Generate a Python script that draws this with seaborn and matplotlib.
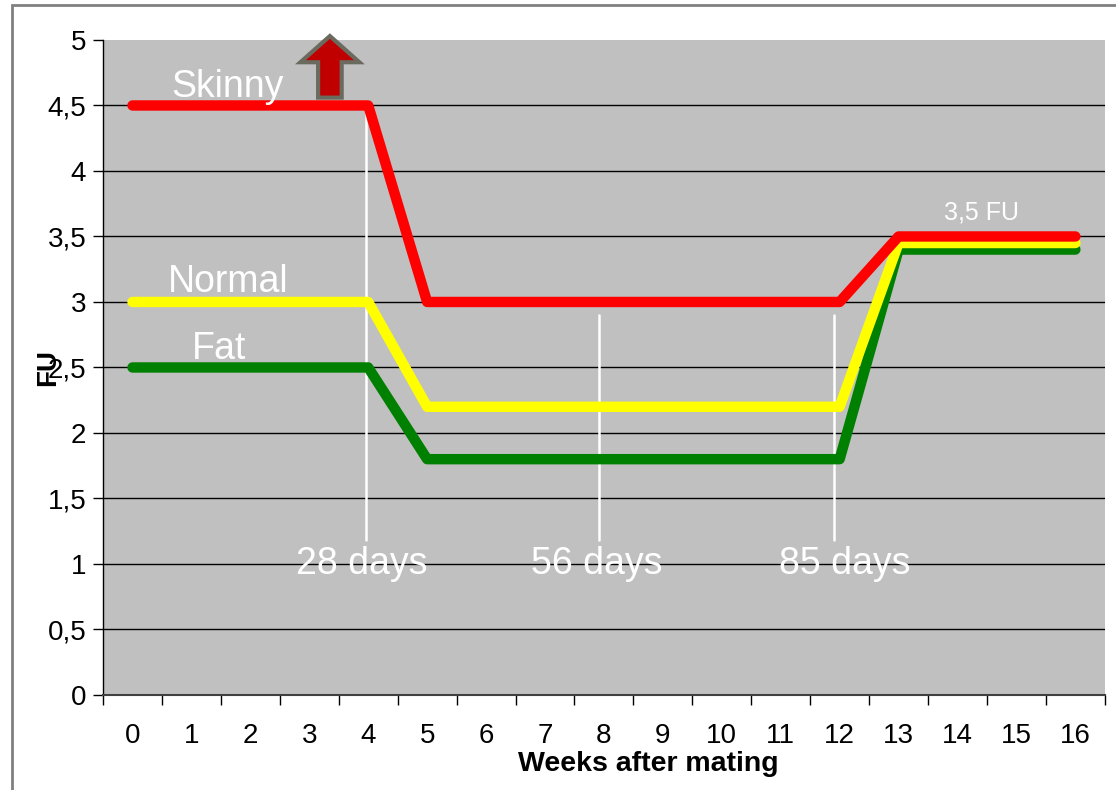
import numpy as np
import pandas as pd
import matplotlib
matplotlib.use("Agg")
import matplotlib.pyplot as plt
from matplotlib.patches import FancyArrow, Rectangle
import seaborn as sns

# Data
weeks = list(range(17))
skinny = [4.5, 4.5, 4.5, 4.5, 4.5, 3.0, 3.0, 3.0, 3.0, 3.0, 3.0, 3.0, 3.0, 3.5, 3.5, 3.5, 3.5]
normal = [3.0, 3.0, 3.0, 3.0, 3.0, 2.2, 2.2, 2.2, 2.2, 2.2, 2.2, 2.2, 2.2, 3.45, 3.45, 3.45, 3.45]
fat = [2.5, 2.5, 2.5, 2.5, 2.5, 1.8, 1.8, 1.8, 1.8, 1.8, 1.8, 1.8, 1.8, 3.4, 3.4, 3.4, 3.4]
groups = ["Fat", "Normal", "Skinny"]
colors = {"Fat": "#008000", "Normal": "#FFFF00", "Skinny": "#FF0000"}
y_ticks = [0, 0.5, 1, 1.5, 2, 2.5, 3, 3.5, 4, 4.5, 5]
y_labels = ["0", "0,5", "1", "1,5", "2", "2,5", "3", "3,5", "4", "4,5", "5"]
day_labels = ["28 days", "56 days", "85 days"]
day_x = [3.97, 7.92, 11.9]
day_top = [4.5, 2.9, 2.9]

df = pd.DataFrame({
    "week": weeks * 3,
    "FU": fat + normal + skinny,
    "group": ["Fat"] * 17 + ["Normal"] * 17 + ["Skinny"] * 17,
})

sns.set_theme(style="white")
plt.rcParams["font.family"] = ["Liberation Sans", "DejaVu Sans"]

fig = plt.figure(figsize=(11.16, 7.9), dpi=100)
ax = fig.add_axes([0.0923, 0.1203, 0.8977, 0.8291])
ax.set_facecolor("#C0C0C0")

# grid lines
for v in y_ticks[1:-1]:
    ax.axhline(v, color="black", lw=1, zorder=1)

sns.lineplot(data=df, x="week", y="FU", hue="group", hue_order=groups,
             palette=colors, linewidth=7.5, legend=False, ax=ax,
             solid_capstyle="round", solid_joinstyle="round", zorder=3)

# white vertical markers and day labels
for xv, ytop in zip(day_x, day_top):
    ax.plot([xv, xv], [1.18, ytop], color="white", lw=1.8, zorder=2)
for label, tx in zip(day_labels, [3.89, 7.87, 12.08]):
    ax.text(tx, 1.0, label, color="white", fontsize=27, ha="center", va="center", zorder=4)

ax.text(1.62, 4.64, "Skinny", color="white", fontsize=27, ha="center", va="center", zorder=4)
ax.text(1.62, 3.15, "Normal", color="white", fontsize=27, ha="center", va="center", zorder=4)
ax.text(1.47, 2.64, "Fat", color="white", fontsize=27, ha="center", va="center", zorder=4)
ax.text(14.4, 3.68, "3,5 FU", color="white", fontsize=18, ha="center", va="center", zorder=4)

# block arrow
arrow = FancyArrow(3.35, 4.56, 0, 0.47, width=0.4, head_width=1.0, head_length=0.2,
                   length_includes_head=True, facecolor="#C00000", edgecolor="#6B6A5E",
                   lw=3, clip_on=False, zorder=5)
ax.add_patch(arrow)

ax.set_xlim(-0.5, 16.5)
ax.set_ylim(0, 5)
ax.set_xticks(weeks)
ax.set_xticklabels([str(w) for w in weeks], fontsize=20)
ax.set_xticks(np.arange(-0.5, 17, 1), minor=True)
ax.tick_params(axis="x", which="major", length=0, pad=20, labelcolor="black")
ax.tick_params(axis="x", which="minor", length=7, width=1, color="black", direction="out", bottom=True)
ax.set_yticks(y_ticks)
ax.set_yticklabels(y_labels, fontsize=20)
ax.tick_params(axis="y", length=7, width=1, color="black", direction="out", left=True, pad=5,
               labelcolor="black")

ax.set_xlabel("Weeks after mating", fontsize=20.5, fontweight="bold", color="black")
ax.xaxis.set_label_coords(0.544, -0.086)
ax.set_ylabel("FU", fontsize=20, fontweight="bold", labelpad=-10, color="black")

for side in ["top", "right"]:
    ax.spines[side].set_visible(False)
ax.spines["left"].set_color("black")
ax.spines["left"].set_linewidth(1)
ax.spines["bottom"].set_color("#404040")
ax.spines["bottom"].set_linewidth(1.5)

# outer chart border
fig.patches.append(Rectangle((12 / 1116, -0.01), 1.02, 1 - 5 / 790 + 0.01,
                             transform=fig.transFigure, fill=False,
                             edgecolor="#808080", lw=2))

fig.savefig("out.png", dpi=100)
